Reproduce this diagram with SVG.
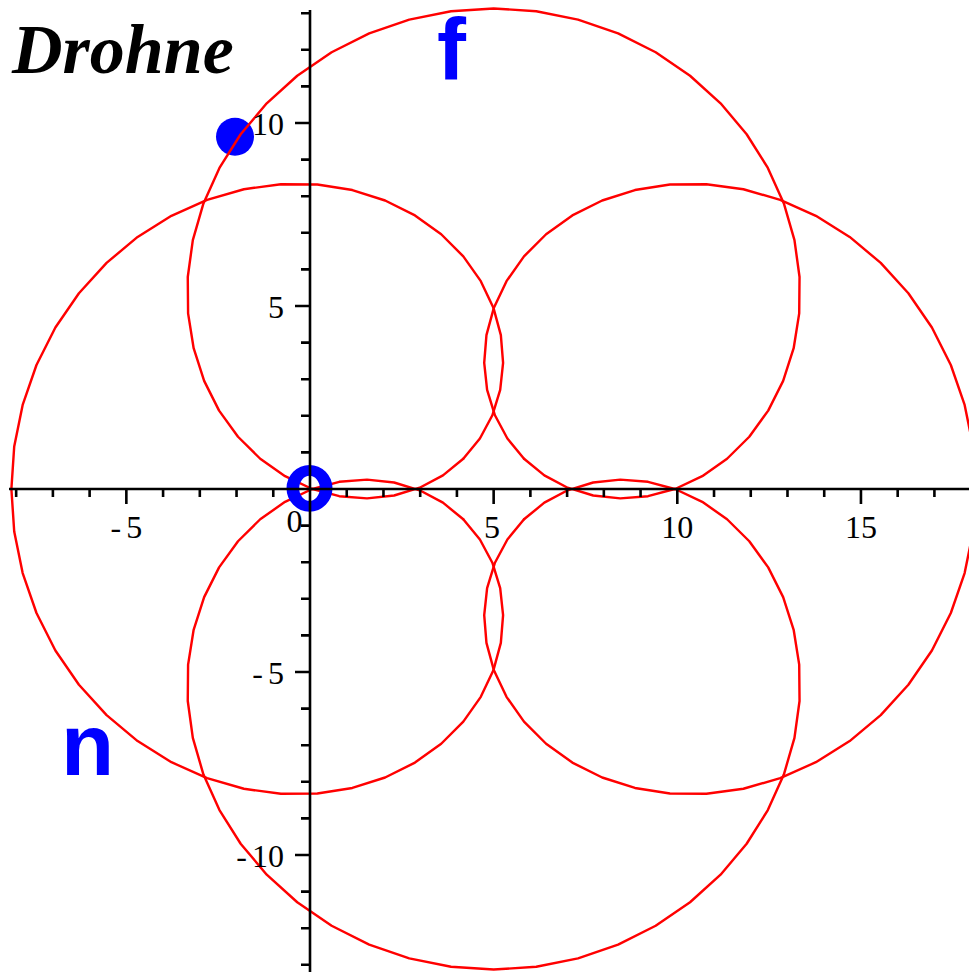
<svg xmlns="http://www.w3.org/2000/svg" xmlns:xlink="http://www.w3.org/1999/xlink" width="969" height="972" viewBox="0 0 969 972">
<style>
.curve{fill:none;stroke:#ff0000;stroke-width:0.066;stroke-linejoin:round;stroke-linecap:round}
.ax{fill:none;stroke:#000;stroke-width:2.6}
.tl{font-family:"Liberation Serif","Times New Roman",serif;font-size:32px;fill:#000}
.xl{text-anchor:middle}
.yl{text-anchor:end}
.big{font-family:"Liberation Sans",Arial,sans-serif;font-weight:bold;font-size:87px;fill:#0000ff}
</style>
<rect width="969" height="972" fill="#fff"/>
<g id="point-current"><circle cx="235" cy="136.7" r="19" fill="#0000ff"/></g>
<g id="curve" transform="translate(493.65 489) scale(36.73 -36.6)">
<path id="seg" class="curve" d="M0.827,-0.827 L0.374,-1.380 0.035,-2.014 -0.178,-2.710 -0.257,-3.447 -0.196,-4.203 0.007,-4.954 0.350,-5.679 0.826,-6.355 1.428,-6.960 2.142,-7.475 2.955,-7.882 3.847,-8.168 4.800,-8.319 5.792,-8.328 6.800,-8.190 7.802,-7.901 8.773,-7.465 9.693,-6.888 10.538,-6.178 11.291,-5.347 11.932,-4.411 12.447,-3.388 12.823,-2.297 13.053,-1.160 13.13,0 13.053,1.160 12.823,2.297 12.447,3.388 11.932,4.411 11.291,5.347 10.538,6.178 9.693,6.888 8.773,7.465 7.802,7.901 6.800,8.190 5.792,8.328 4.800,8.319 3.847,8.168 2.955,7.882 2.142,7.475 1.428,6.960 0.826,6.355 0.350,5.679 0.007,4.954 -0.196,4.203 -0.257,3.447 -0.178,2.710 0.035,2.014 0.374,1.380 0.827,0.827"/>
<use href="#seg" xlink:href="#seg" transform="rotate(90)"/>
<use href="#seg" xlink:href="#seg" transform="rotate(180)"/>
<use href="#seg" xlink:href="#seg" transform="rotate(270)"/>
</g>
<g id="point-start"><path fill="#0000ff" fill-rule="evenodd" d="M286.5,488.3 a23,23.4 0 1,0 46,0 a23,23.4 0 1,0 -46,0 Z M299.2,488.3 a10.3,12.5 0 1,0 20.6,0 a10.3,12.5 0 1,0 -20.6,0 Z"/></g>
<g id="axes">
<path class="ax" d="M9,489H969 M310,10V972"/>
<path class="ax" d="M16.16,489V497 M52.89,489V497 M89.62,489V497 M163.08,489V497 M199.81,489V497 M236.54,489V497 M273.27,489V497 M346.73,489V497 M383.46,489V497 M420.19,489V497 M456.92,489V497 M530.38,489V497 M567.11,489V497 M603.84,489V497 M640.57,489V497 M714.03,489V497 M750.76,489V497 M787.49,489V497 M824.22,489V497 M897.68,489V497 M934.41,489V497 M126.35,489V504 M493.65,489V504 M677.3,489V504 M860.95,489V504"/>
<path class="ax" d="M301,13.2H310 M301,49.8H310 M301,86.4H310 M301,159.6H310 M301,196.2H310 M301,232.8H310 M301,269.4H310 M301,342.6H310 M301,379.2H310 M301,415.8H310 M301,452.4H310 M301,525.6H310 M301,562.2H310 M301,598.8H310 M301,635.4H310 M301,708.6H310 M301,745.2H310 M301,781.8H310 M301,818.4H310 M301,891.6H310 M301,928.2H310 M301,964.8H310 M295,123H310 M295,306H310 M295,672H310 M295,855H310"/>
<text class="tl xl" x="126.35" y="538">-<tspan dx="5">5</tspan></text>
<text class="tl xl" x="294.5" y="532">0</text>
<text class="tl xl" x="492" y="538">5</text>
<text class="tl xl" x="677.3" y="538">10</text>
<text class="tl xl" x="861" y="538">15</text>
<text class="tl yl" x="284" y="135">10</text>
<text class="tl yl" x="284" y="318">5</text>
<text class="tl yl" x="284" y="684">-<tspan dx="5">5</tspan></text>
<text class="tl yl" x="284" y="867">-<tspan dx="5">10</tspan></text>
</g>
<g id="title"><text x="12" y="73" font-family="'Liberation Serif','Times New Roman',serif" font-weight="bold" font-style="italic" font-size="70" fill="#000">Drohne</text></g>
<g id="label-f"><text class="big" x="437" y="79">f</text></g>
<g id="label-n"><text class="big" x="61" y="775">n</text></g>
</svg>
